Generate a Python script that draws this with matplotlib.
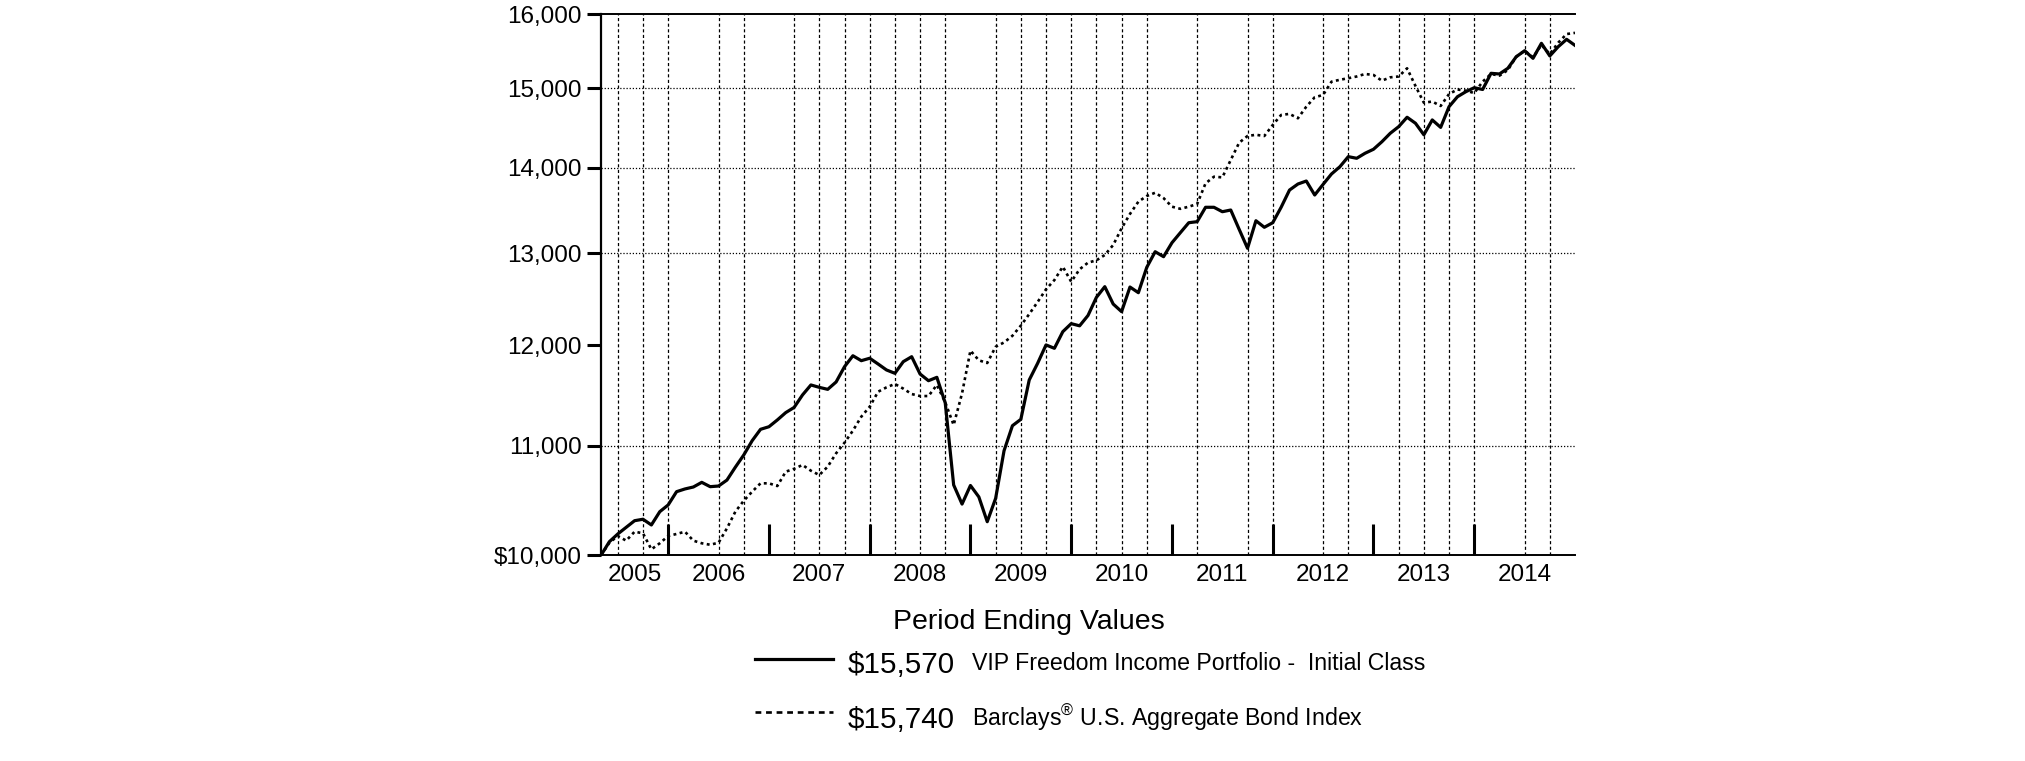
import numpy as np
import matplotlib
matplotlib.use("Agg")
import matplotlib.pyplot as plt
from matplotlib import font_manager
from matplotlib.lines import Line2D
from matplotlib.ticker import FixedLocator, NullLocator

# month-end values, index 0 = start of fund (Apr 2005), last = Dec 2014
fund = [10000, 10119, 10187, 10246, 10305, 10318, 10267, 10386, 10447, 10568,
        10593, 10611, 10654, 10614, 10620, 10675, 10795, 10910, 11046, 11156,
        11181, 11247, 11319, 11370, 11494, 11594, 11570, 11550, 11624, 11779,
        11892, 11841, 11866, 11807, 11746, 11712, 11831, 11882, 11705, 11637,
        11671, 11414, 10630, 10455, 10625, 10520, 10296, 10507, 10950, 11191,
        11253, 11644, 11814, 12004, 11969, 12143, 12228, 12205, 12315, 12510,
        12627, 12438, 12356, 12623, 12561, 12841, 13016, 12960, 13118, 13233,
        13348, 13360, 13528, 13528, 13476, 13496, 13272, 13055, 13371, 13295,
        13348, 13528, 13732, 13804, 13840, 13673, 13800, 13925, 14013, 14136,
        14116, 14178, 14227, 14320, 14426, 14509, 14628, 14552, 14407, 14594,
        14500, 14763, 14891, 14956, 15008, 14985, 15197, 15188, 15263, 15417,
        15498, 15396, 15598, 15428, 15552, 15652, 15570]

bond = [10000, 10110, 10169, 10128, 10207, 10193, 10052, 10105, 10169, 10187,
        10207, 10128, 10105, 10092, 10110, 10237, 10386, 10485, 10568, 10645,
        10645, 10620, 10753, 10780, 10816, 10762, 10722, 10800, 10926, 11027,
        11143, 11279, 11377, 11526, 11570, 11604, 11557, 11503, 11483, 11483,
        11594, 11420, 11198, 11510, 11945, 11845, 11817, 11985, 12030, 12100,
        12207, 12330, 12460, 12598, 12700, 12848, 12681, 12819, 12893, 12919,
        12979, 13092, 13283, 13450, 13594, 13661, 13700, 13636, 13535, 13510,
        13535, 13567, 13812, 13892, 13884, 14095, 14308, 14392, 14407, 14392,
        14530, 14657, 14671, 14615, 14763, 14884, 14914, 15087, 15112, 15132,
        15155, 15188, 15175, 15100, 15144, 15155, 15263, 15031, 14814, 14829,
        14772, 14926, 14985, 14969, 14939, 15087, 15188, 15166, 15240, 15417,
        15498, 15409, 15575, 15453, 15606, 15724, 15740]

years = ["2005", "2006", "2007", "2008", "2009", "2010", "2011", "2012", "2013", "2014"]
year_ends = [8, 20, 32, 44, 56, 68, 80, 92, 104]  # month index of each Dec
grid_months = [2, 5, 8, 14, 17, 23, 26, 29, 32, 35, 38, 41, 47, 50, 53, 56, 59,
               62, 65, 71, 77, 80, 86, 89, 95, 98, 101, 104, 110, 113]
y_ticks = [10000, 11000, 12000, 13000, 14000, 15000, 16000]
y_labels = ["$10,000", "11,000", "12,000", "13,000", "14,000", "15,000", "16,000"]
y_grid = [11000, 13000, 14000, 15000]

legend_values = ["$15,570", "$15,740"]
legend_names = ["VIP Freedom Income Portfolio -  Initial Class",
                "Barclays$^{\\mathrm{\u00ae}}$ U.S. Aggregate Bond Index"]

plt.rcParams["font.family"] = ["Liberation Sans", "DejaVu Sans"]
plt.rcParams["mathtext.fontset"] = "custom"
plt.rcParams["mathtext.rm"] = "Liberation Sans"
installed = {f.name for f in font_manager.fontManager.ttflist}
if "Liberation Sans Narrow" in installed:
    narrow, nscale = "Liberation Sans Narrow", 1.0
else:
    narrow, nscale = "Liberation Sans", 0.82

W, H = 2025, 761
fig = plt.figure(figsize=(W / 100, H / 100), dpi=100)
ax = fig.add_axes([601 / W, 1 - 555.3 / H, (1575 - 601) / W, (555.3 - 14) / H])

months = np.arange(len(fund))
end = len(fund) - 1

for m in grid_months:
    ax.axvline(m, color="black", lw=0.9, ls=(0, (2.5, 2)), zorder=1)
for v in y_grid:
    ax.axhline(v, color="black", lw=0.9, ls=(0, (1, 1.5)), zorder=1)

ax.plot(months, fund, color="black", lw=2.3, zorder=3)
ax.plot(months, bond, color="black", lw=1.9, ls=(0, (1.1, 1.3)), zorder=3)

ax.set_yscale("log")
ax.set_xlim(0, end)
ax.set_ylim(y_ticks[0], y_ticks[-1])

ax.yaxis.set_major_locator(FixedLocator(y_ticks))
ax.yaxis.set_minor_locator(NullLocator())
ax.set_yticklabels(y_labels)
ax.tick_params(axis="y", which="major", direction="out", length=10, width=2.2,
               labelsize=17.5, pad=4)

bounds = [0] + year_ends + [end]
mids = [(a + b) / 2 for a, b in zip(bounds[:-1], bounds[1:])]
ax.set_xticks(year_ends)
ax.set_xticklabels([])
ax.set_xticks(mids, minor=True)
ax.set_xticklabels(years, minor=True)
ax.tick_params(axis="x", which="major", direction="in", length=22, width=2.2)
ax.tick_params(axis="x", which="minor", length=0, labelsize=17.5, pad=6.5)

ax.spines["right"].set_visible(False)
ax.spines["left"].set_linewidth(1.6)
ax.spines["top"].set_linewidth(1.4)
ax.spines["bottom"].set_linewidth(1.4)

fig.text(1029 / W, 1 - 622 / H, "Period Ending Values", ha="center", va="center",
         fontsize=25 * nscale, family=narrow)

rows_y = [665, 720]
line_y = [659, 712]
line_styles = [dict(lw=2.3, ls="-"), dict(lw=1.9, ls=(0, (2.2, 1.8)))]
for yy, ly, val, name, st in zip(rows_y, line_y, legend_values, legend_names, line_styles):
    fig.add_artist(Line2D([755 / W, 833 / W], [1 - ly / H] * 2, color="black", **st))
    fig.text(848 / W, 1 - yy / H, val, ha="left", va="center",
             fontsize=26 * nscale, family=narrow)
    fig.text(972 / W, 1 - (yy - 2) / H, name, ha="left", va="center",
             fontsize=20.3 * nscale, family=narrow)

fig.savefig("out.png", dpi=100)
